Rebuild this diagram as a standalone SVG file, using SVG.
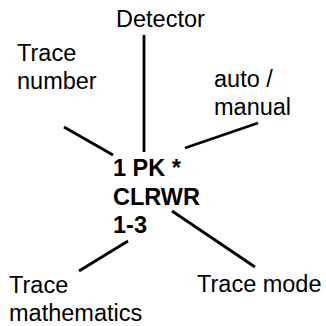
<svg xmlns="http://www.w3.org/2000/svg" width="326" height="326" viewBox="0 0 326 326">
<style>
text{font-family:"Liberation Sans",Arial,sans-serif;font-size:23.5px;fill:#000}
.b{font-weight:bold}
.c line{stroke:#000;stroke-width:2.8;stroke-linecap:butt}
</style>
<rect width="326" height="326" fill="#fff"/>
<g class="c" id="connectors">
<line x1="144" y1="35" x2="144" y2="152"/>
<line x1="64" y1="127" x2="113" y2="155"/>
<line x1="258" y1="123" x2="185" y2="148"/>
<line x1="172" y1="211" x2="255" y2="267"/>
<line x1="128" y1="241" x2="79" y2="271"/>
</g>
<g id="center"><text class="b" x="113" y="176">1 PK *</text><text class="b" x="113" y="204.5">CLRWR</text><text class="b" x="113" y="233">1-3</text></g>
<g id="detector"><text x="116" y="27">Detector</text></g>
<g id="trace-number"><text x="17" y="61">Trace</text><text x="17" y="89">number</text></g>
<g id="auto-manual"><text x="214" y="87">auto /</text><text x="214" y="115">manual</text></g>
<g id="trace-mode"><text x="197" y="292">Trace mode</text></g>
<g id="trace-math"><text x="9" y="293">Trace</text><text x="9" y="321">mathematics</text></g>
</svg>
